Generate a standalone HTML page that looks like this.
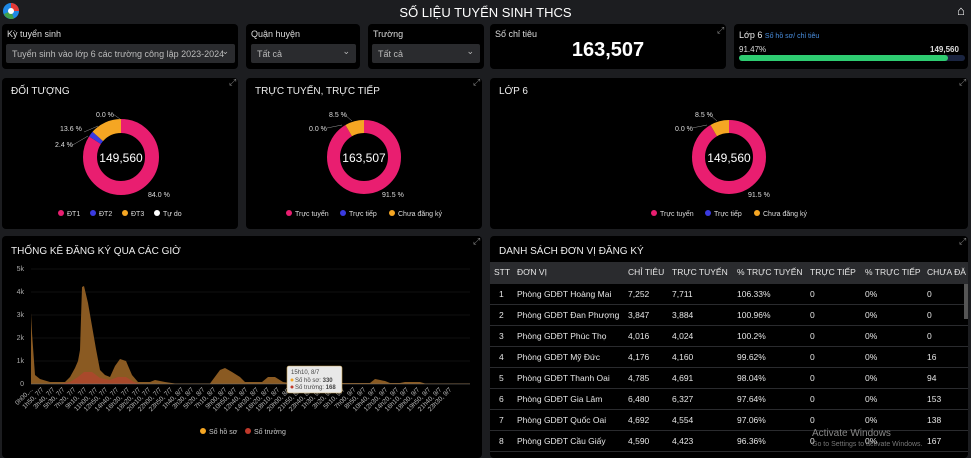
<!DOCTYPE html>
<html><head><meta charset="utf-8"><style>
*{margin:0;padding:0;box-sizing:border-box}
body{width:971px;height:458px;background:#1c1d20;font-family:"Liberation Sans",sans-serif;color:#e8e8e8;position:relative;overflow:hidden}
.p{position:absolute;background:#000;border-radius:4px}
.t{position:absolute;font-size:9px;color:#ddd}
.sel{position:absolute;background:#2a2b2e;border-radius:2px;font-size:9px;color:#bbb;padding:5px 6px;height:19px}
.sel:after{content:"⌄";position:absolute;right:6px;top:2px;font-size:9px}
.h{position:absolute;font-size:10px;color:#eee;text-transform:uppercase}
.ex{position:absolute;font-size:9px;color:#888}
table{border-collapse:collapse;font-size:8.5px;color:#e6e6e6}
td,th{height:21px;padding:0;text-align:left;font-weight:normal;white-space:nowrap}
th{background:#2a2b2e;height:21px}
tr{border-bottom:1px solid #2a2b2e}
</style></head><body>
<svg style="position:absolute;left:2px;top:2px" width="18" height="18"><circle cx="9" cy="9" r="8" fill="#1e88e5"/><path d="M9 1 A8 8 0 0 1 17 9 L9 9Z" fill="#e53935"/><path d="M2 12 A8 8 0 0 0 12 16.5 L9 9Z" fill="#43a047"/><circle cx="9" cy="9" r="3" fill="#fff"/></svg>
<div style="position:absolute;left:0;width:971px;top:5px;text-align:center;font-size:13px;color:#fff">SỐ LIỆU TUYỂN SINH THCS</div>
<div style="position:absolute;left:957px;top:3px;font-size:13px;color:#fff">⌂</div>

<div class="p" style="left:2px;top:24px;width:236px;height:45px"></div>
<div class="t" style="left:7px;top:29px">Kỳ tuyển sinh</div>
<div class="sel" style="left:6px;top:44px;width:229px">Tuyển sinh vào lớp 6 các trường công lập 2023-2024</div>
<div class="p" style="left:246px;top:24px;width:114px;height:45px"></div>
<div class="t" style="left:251px;top:29px">Quận huyện</div>
<div class="sel" style="left:251px;top:44px;width:105px">Tất cả</div>
<div class="p" style="left:368px;top:24px;width:116px;height:45px"></div>
<div class="t" style="left:373px;top:29px">Trường</div>
<div class="sel" style="left:372px;top:44px;width:108px">Tất cả</div>
<div class="p" style="left:490px;top:24px;width:236px;height:45px"></div>
<div class="t" style="left:495px;top:29px">Số chỉ tiêu</div>
<div style="position:absolute;left:490px;width:236px;top:39px;text-align:center;font-size:20px;font-weight:bold;color:#fff">163,507</div>
<div class="ex" style="left:717px;top:25px">⤢</div>
<div class="p" style="left:734px;top:24px;width:234px;height:45px"></div>
<div class="t" style="left:739px;top:30px;color:#eee">Lớp 6 <span style="color:#4a90e2;font-size:7px">Số hồ sơ/ chỉ tiêu</span></div>
<div class="t" style="left:739px;top:45px;font-size:8px">91.47%</div>
<div class="t" style="left:930px;top:45px;font-size:8px;font-weight:bold">149,560</div>
<div style="position:absolute;left:739px;top:55px;width:226px;height:6px;background:#1a2440;border-radius:3px"><div style="width:209px;height:6px;background:#2ecc71;border-radius:3px"></div></div>

<!-- donut panels -->
<div class="p" style="left:2px;top:78px;width:236px;height:151px"></div>
<div class="h" style="left:11px;top:86px">Đối tượng</div><div class="ex" style="left:229px;top:77px">⤢</div>
<div class="p" style="left:246px;top:78px;width:236px;height:151px"></div>
<div class="h" style="left:255px;top:86px">Trực tuyến, trực tiếp</div><div class="ex" style="left:473px;top:77px">⤢</div>
<div class="p" style="left:490px;top:78px;width:478px;height:151px"></div>
<div class="h" style="left:499px;top:86px">Lớp 6</div><div class="ex" style="left:959px;top:77px">⤢</div>

<svg style="position:absolute;left:0;top:0" width="971" height="240" font-family="Liberation Sans,sans-serif">
<g transform="translate(121,157) rotate(-90)" fill="none" stroke-width="14">
<circle r="31" stroke="#e91e70" stroke-dasharray="163.6 200"/>
<circle r="31" stroke="#3a3ae0" stroke-dasharray="0 163.6 4.7 200"/>
<circle r="31" stroke="#f5a623" stroke-dasharray="0 168.3 26.5 200"/>
</g>
<text x="121" y="162" text-anchor="middle" font-size="12" fill="#fff">149,560</text>
<g font-size="7" fill="#ddd"><text x="96" y="117">0.0 %</text><text x="60" y="131">13.6 %</text><text x="55" y="147">2.4 %</text><text x="148" y="197">84.0 %</text></g>
<g stroke="#999" stroke-width=".5" fill="none"><path d="M84 132 L98 126"/><path d="M71 146 L88 136"/><path d="M113 114 L120 119"/></g>
<g font-size="7" fill="#ddd"><circle cx="61" cy="213" r="3" fill="#e91e70"/><text x="67" y="216">ĐT1</text><circle cx="93" cy="213" r="3" fill="#3a3ae0"/><text x="99" y="216">ĐT2</text><circle cx="125" cy="213" r="3" fill="#f5a623"/><text x="131" y="216">ĐT3</text><circle cx="157" cy="213" r="3" fill="#fff"/><text x="163" y="216">Tự do</text></g>

<g transform="translate(364,157) rotate(-90)" fill="none" stroke-width="13">
<circle r="30.5" stroke="#e91e70" stroke-dasharray="175.3 200"/>
<circle r="30.5" stroke="#f5a623" stroke-dasharray="0 175.3 16.3 200"/>
</g>
<text x="364" y="162" text-anchor="middle" font-size="12" fill="#fff">163,507</text>
<g font-size="7" fill="#ddd"><text x="329" y="117">8.5 %</text><text x="309" y="131">0.0 %</text><text x="382" y="197">91.5 %</text></g>
<g stroke="#999" stroke-width=".5" fill="none"><path d="M344 114 L352 121"/><path d="M327 128 L342 125"/></g>
<g font-size="7" fill="#ddd"><circle cx="289" cy="213" r="3" fill="#e91e70"/><text x="295" y="216">Trực tuyến</text><circle cx="343" cy="213" r="3" fill="#3a3ae0"/><text x="349" y="216">Trực tiếp</text><circle cx="392" cy="213" r="3" fill="#f5a623"/><text x="398" y="216">Chưa đăng ký</text></g>

<g transform="translate(729,157) rotate(-90)" fill="none" stroke-width="13">
<circle r="30.5" stroke="#e91e70" stroke-dasharray="175.3 200"/>
<circle r="30.5" stroke="#f5a623" stroke-dasharray="0 175.3 16.3 200"/>
</g>
<text x="729" y="162" text-anchor="middle" font-size="12" fill="#fff">149,560</text>
<g font-size="7" fill="#ddd"><text x="695" y="117">8.5 %</text><text x="675" y="131">0.0 %</text><text x="748" y="197">91.5 %</text></g>
<g stroke="#999" stroke-width=".5" fill="none"><path d="M709 114 L717 121"/><path d="M692 128 L707 125"/></g>
<g font-size="7" fill="#ddd"><circle cx="654" cy="213" r="3" fill="#e91e70"/><text x="660" y="216">Trực tuyến</text><circle cx="708" cy="213" r="3" fill="#3a3ae0"/><text x="714" y="216">Trực tiếp</text><circle cx="757" cy="213" r="3" fill="#f5a623"/><text x="763" y="216">Chưa đăng ký</text></g>
</svg>

<!-- chart panel -->
<div class="p" style="left:2px;top:236px;width:480px;height:222px"></div>
<div class="h" style="left:11px;top:246px">Thống kê đăng ký qua các giờ</div><div class="ex" style="left:473px;top:236px">⤢</div>
<svg style="position:absolute;left:0;top:236px" width="490" height="222" font-family="Liberation Sans,sans-serif">
<g transform="translate(0,-236)">
<g stroke="#222" stroke-width=".6"><line x1="31" x2="470" y1="269" y2="269"/><line x1="31" x2="470" y1="292" y2="292"/><line x1="31" x2="470" y1="315" y2="315"/><line x1="31" x2="470" y1="338" y2="338"/><line x1="31" x2="470" y1="361" y2="361"/></g>
<g font-size="7" fill="#aaa" text-anchor="end"><text x="24" y="271">5k</text><text x="24" y="294">4k</text><text x="24" y="317">3k</text><text x="24" y="340">2k</text><text x="24" y="363">1k</text><text x="24" y="386">0</text></g>
<path fill="#8a5a22" d="M31 384 L31 313 L32 333 L35 375 L40 379 L50 382 L65 382 L70 377 L75 368 L78 361 L80 350 L82 287 L84 286 L88 303 L92 326 L96 349 L100 370 L105 375 L110 377 L115 366 L120 359 L126 361 L132 375 L138 382 L150 382 L155 380 L165 382 L175 383.5 L210 383.5 L220 370 L225 368 L232 372 L240 377 L245 382 L262 382 L268 377 L275 377 L283 382 L290 383 L370 383 L375 379 L385 381 L390 383 L400 383 L405 382 L420 382 L425 383.5 L470 383.5 L470 384Z"/>
<path fill="#b0452e" opacity=".8" d="M60 384 L70 382 L78 377 L84 372 L92 372 L100 378 L110 380 L118 377 L126 377 L134 382 L140 384Z"/>
<line x1="31" x2="470" y1="384" y2="384" stroke="#777" stroke-width=".6"/>
<g font-size="6.5" fill="#bbb" text-anchor="end">
<text transform="translate(33,390) rotate(-45)">0h00,...</text>
<text transform="translate(44,390) rotate(-45)">1h50, 7/7</text>
<text transform="translate(55,390) rotate(-45)">3h40, 7/7</text>
<text transform="translate(65,390) rotate(-45)">5h30, 7/7</text>
<text transform="translate(76,390) rotate(-45)">7h20, 7/7</text>
<text transform="translate(87,390) rotate(-45)">9h10, 7/7</text>
<text transform="translate(98,390) rotate(-45)">11h00, 7/7</text>
<text transform="translate(108,390) rotate(-45)">12h50, 7/7</text>
<text transform="translate(119,390) rotate(-45)">14h40, 7/7</text>
<text transform="translate(130,390) rotate(-45)">16h30, 7/7</text>
<text transform="translate(141,390) rotate(-45)">18h20, 7/7</text>
<text transform="translate(151,390) rotate(-45)">20h10, 7/7</text>
<text transform="translate(162,390) rotate(-45)">22h00, 7/7</text>
<text transform="translate(173,390) rotate(-45)">23h50, 7/7</text>
<text transform="translate(184,390) rotate(-45)">1h40, 8/7</text>
<text transform="translate(194,390) rotate(-45)">3h30, 8/7</text>
<text transform="translate(205,390) rotate(-45)">5h20, 8/7</text>
<text transform="translate(216,390) rotate(-45)">7h10, 8/7</text>
<text transform="translate(227,390) rotate(-45)">9h00, 8/7</text>
<text transform="translate(237,390) rotate(-45)">10h50, 8/7</text>
<text transform="translate(248,390) rotate(-45)">12h40, 8/7</text>
<text transform="translate(259,390) rotate(-45)">14h30, 8/7</text>
<text transform="translate(270,390) rotate(-45)">16h20, 8/7</text>
<text transform="translate(280,390) rotate(-45)">18h10, 8/7</text>
<text transform="translate(291,390) rotate(-45)">20h00, 8/7</text>
<text transform="translate(302,390) rotate(-45)">21h50, 8/7</text>
<text transform="translate(313,390) rotate(-45)">23h40, 8/7</text>
<text transform="translate(323,390) rotate(-45)">1h30, 9/7</text>
<text transform="translate(334,390) rotate(-45)">3h20, 9/7</text>
<text transform="translate(345,390) rotate(-45)">5h10, 9/7</text>
<text transform="translate(356,390) rotate(-45)">7h00, 9/7</text>
<text transform="translate(366,390) rotate(-45)">8h50, 9/7</text>
<text transform="translate(377,390) rotate(-45)">10h40, 9/7</text>
<text transform="translate(388,390) rotate(-45)">12h30, 9/7</text>
<text transform="translate(399,390) rotate(-45)">14h20, 9/7</text>
<text transform="translate(409,390) rotate(-45)">16h10, 9/7</text>
<text transform="translate(420,390) rotate(-45)">18h00, 9/7</text>
<text transform="translate(431,390) rotate(-45)">19h50, 9/7</text>
<text transform="translate(442,390) rotate(-45)">21h40, 9/7</text>
<text transform="translate(452,390) rotate(-45)">23h30, 9/7</text>
</g>
<rect x="287" y="366" width="55" height="27" fill="#e8e8e8" stroke="#c8a050" stroke-width=".6" rx="2"/>
<g font-size="6" fill="#444"><text x="291" y="374">15h10, 8/7</text><circle cx="292" cy="380" r="1.5" fill="#f5a623"/><text x="295" y="382">Số hồ sơ: <tspan font-weight="bold">330</tspan></text><circle cx="292" cy="387" r="1.5" fill="#c0392b"/><text x="295" y="389">Số trường: <tspan font-weight="bold">168</tspan></text></g>
<g font-size="7" fill="#ccc"><circle cx="203" cy="431" r="3" fill="#f5a623"/><text x="209" y="434">Số hồ sơ</text><circle cx="248" cy="431" r="3" fill="#c0392b"/><text x="254" y="434">Số trường</text></g>
</g></svg>

<!-- table panel -->
<div class="p" style="left:490px;top:236px;width:478px;height:222px;overflow:hidden">
<div class="h" style="left:9px;top:10px">Danh sách đơn vị đăng ký</div>
<table style="position:absolute;left:0;top:26px;width:478px">
<tr><th style="width:27px;padding-left:4px">STT</th><th style="width:111px">ĐƠN VỊ</th><th style="width:44px">CHỈ TIÊU</th><th style="width:65px">TRỰC TUYẾN</th><th style="width:73px">% TRỰC TUYẾN</th><th style="width:55px">TRỰC TIẾP</th><th style="width:62px">% TRỰC TIẾP</th><th>CHƯA ĐĂ</th></tr>
<tr><td style="padding-left:9px">1</td><td>Phòng GDĐT Hoàng Mai</td><td>7,252</td><td>7,711</td><td>106.33%</td><td>0</td><td>0%</td><td>0</td></tr>
<tr><td style="padding-left:9px">2</td><td>Phòng GDĐT Đan Phượng</td><td>3,847</td><td>3,884</td><td>100.96%</td><td>0</td><td>0%</td><td>0</td></tr>
<tr><td style="padding-left:9px">3</td><td>Phòng GDĐT Phúc Thọ</td><td>4,016</td><td>4,024</td><td>100.2%</td><td>0</td><td>0%</td><td>0</td></tr>
<tr><td style="padding-left:9px">4</td><td>Phòng GDĐT Mỹ Đức</td><td>4,176</td><td>4,160</td><td>99.62%</td><td>0</td><td>0%</td><td>16</td></tr>
<tr><td style="padding-left:9px">5</td><td>Phòng GDĐT Thanh Oai</td><td>4,785</td><td>4,691</td><td>98.04%</td><td>0</td><td>0%</td><td>94</td></tr>
<tr><td style="padding-left:9px">6</td><td>Phòng GDĐT Gia Lâm</td><td>6,480</td><td>6,327</td><td>97.64%</td><td>0</td><td>0%</td><td>153</td></tr>
<tr><td style="padding-left:9px">7</td><td>Phòng GDĐT Quốc Oai</td><td>4,692</td><td>4,554</td><td>97.06%</td><td>0</td><td>0%</td><td>138</td></tr>
<tr><td style="padding-left:9px">8</td><td>Phòng GDĐT Cầu Giấy</td><td>4,590</td><td>4,423</td><td>96.36%</td><td>0</td><td>0%</td><td>167</td></tr>
</table>
<div style="position:absolute;right:0;top:48px;width:4px;height:35px;background:#555"></div>
</div>
<div class="ex" style="left:959px;top:236px">⤢</div>
<div style="position:absolute;left:812px;top:428px;font-size:10px;color:#888">Activate Windows</div>
<div style="position:absolute;left:812px;top:441px;font-size:7px;color:#777">Go to Settings to activate Windows.</div>
</body></html>
